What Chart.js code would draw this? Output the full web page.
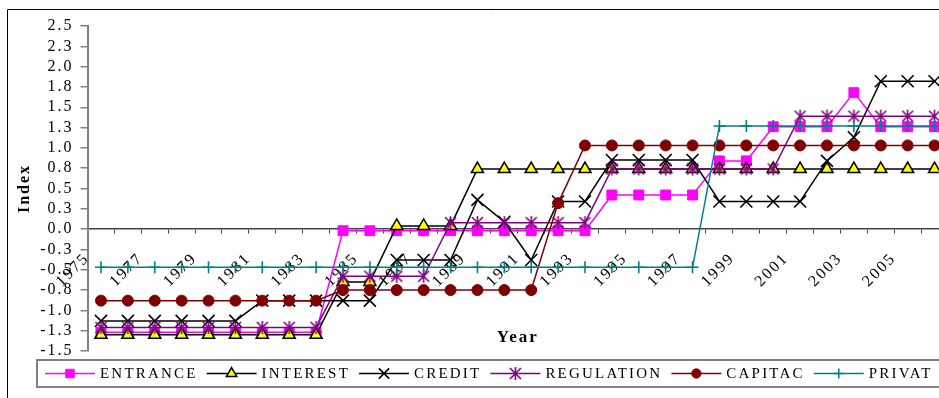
<!DOCTYPE html>
<html>
<head>
<meta charset="utf-8">
<script src="https://cdn.jsdelivr.net/npm/chart.js@4.4.1/dist/chart.umd.min.js"></script>
<style>
  html, body { margin: 0; padding: 0; background: #fff; overflow: hidden; }
  #wrap { position: absolute; left: 0; top: 0; width: 970px; height: 398px; }
</style>
</head>
<body>
<div id="wrap"><canvas id="chart" width="970" height="398"></canvas></div>
<script>
const years = ['1975', '1976', '1977', '1978', '1979', '1980', '1981', '1982', '1983', '1984', '1985',
  '1986', '1987', '1988', '1989', '1990', '1991', '1992', '1993', '1994', '1995', '1996', '1997',
  '1998', '1999', '2000', '2001', '2002', '2003', '2004', '2005', '2006'];

const entrance = [-1.27, -1.27, -1.27, -1.27, -1.27, -1.27, -1.27, -1.27, -1.27,
  -0.02, -0.02, -0.02, -0.02, -0.02, -0.02, -0.02, -0.02, -0.02, -0.02,
  0.42, 0.42, 0.42, 0.42, 0.84, 0.84, 1.26, 1.26, 1.26, 1.68, 1.26, 1.26, 1.26];
const interest = [-1.30, -1.30, -1.30, -1.30, -1.30, -1.30, -1.30, -1.30, -1.30,
  -0.65, -0.65, 0.04, 0.04, 0.04,
  0.74, 0.74, 0.74, 0.74, 0.74, 0.74, 0.74, 0.74, 0.74, 0.74, 0.74, 0.74, 0.74, 0.74, 0.74, 0.74, 0.74, 0.74];
const credit = [-1.13, -1.13, -1.13, -1.13, -1.13, -1.13, -0.88, -0.88, -0.88, -0.88, -0.88,
  -0.38, -0.38, -0.38, 0.36, 0.09, -0.38, 0.34, 0.34, 0.85, 0.85, 0.85, 0.85,
  0.34, 0.34, 0.34, 0.34, 0.84, 1.13, 1.82, 1.82, 1.82];
const regulation = [-1.21, -1.21, -1.21, -1.21, -1.21, -1.21, -1.21, -1.21, -1.21,
  -0.58, -0.58, -0.58, -0.58, 0.08, 0.08, 0.08, 0.08, 0.08, 0.08,
  0.74, 0.74, 0.74, 0.74, 0.74, 0.74, 0.74, 1.39, 1.39, 1.39, 1.39, 1.39, 1.39];
const capitac = [-0.88, -0.88, -0.88, -0.88, -0.88, -0.88, -0.88, -0.88, -0.88,
  -0.75, -0.75, -0.75, -0.75, -0.75, -0.75, -0.75, -0.75, 0.32,
  1.03, 1.03, 1.03, 1.03, 1.03, 1.03, 1.03, 1.03, 1.03, 1.03, 1.03, 1.03, 1.03, 1.03];
const privat = [-0.47, -0.47, -0.47, -0.47, -0.47, -0.47, -0.47, -0.47, -0.47, -0.47, -0.47, -0.47,
  -0.47, -0.47, -0.47, -0.47, -0.47, -0.47, -0.47, -0.47, -0.47, -0.47, -0.47,
  1.27, 1.27, 1.27, 1.27, 1.27, 1.27, 1.27, 1.27, 1.27];

const FONT = "'Liberation Serif', 'Times New Roman', serif";
Chart.defaults.font.family = FONT;
Chart.defaults.color = '#000';

// excel-like star marker: X with a vertical bar
function starMarker(color) {
  const c = document.createElement('canvas');
  c.width = 15; c.height = 15;
  const g = c.getContext('2d');
  g.strokeStyle = color;
  g.lineWidth = 1.6;
  g.beginPath();
  g.moveTo(2, 2); g.lineTo(13, 13);
  g.moveTo(13, 2); g.lineTo(2, 13);
  g.moveTo(7.5, 1); g.lineTo(7.5, 14);
  g.stroke();
  return c;
}

const series = [
  { label: 'ENTRANCE', data: entrance, line: '#ff00ff', fill: '#ff00ff', mark: '#ff00ff', style: 'rect', r: 7, bw: 1 },
  { label: 'INTEREST', data: interest, line: '#000000', fill: '#ffff00', mark: '#000000', style: 'triangle', r: 7, bw: 1.5 },
  { label: 'CREDIT', data: credit, line: '#000000', fill: '#000000', mark: '#000000', style: 'crossRot', r: 8.5, bw: 1.6 },
  { label: 'REGULATION', data: regulation, line: '#800080', fill: '#800080', mark: '#800080', style: starMarker('#800080'), r: 7, bw: 1.5 },
  { label: 'CAPITAC', data: capitac, line: '#800000', fill: '#800000', mark: '#800000', style: 'circle', r: 5.5, bw: 1 },
  { label: 'PRIVAT', data: privat, line: '#008080', fill: '#008080', mark: '#008080', style: 'cross', r: 6, bw: 1.6 },
];

const framePlugin = {
  id: 'frame',
  beforeDraw(chart) {
    const ctx = chart.ctx;
    ctx.save();
    ctx.strokeStyle = '#000';
    ctx.lineWidth = 1;
    ctx.beginPath();
    ctx.moveTo(7.5, chart.height);
    ctx.lineTo(7.5, 9.5);
    ctx.lineTo(chart.width, 9.5);
    ctx.stroke();
    ctx.restore();
    ctx.letterSpacing = '2px';
  },
  beforeDatasetsDraw(chart) {
    chart.ctx.letterSpacing = '0px';
  },
  afterDraw(chart) {
    // excel style legend: line with marker, then spaced caps
    const ctx = chart.ctx;
    const top = chart.chartArea.bottom + 9;
    const h = 27;
    const left = 37;
    const cy = top + h / 2;
    ctx.save();
    ctx.font = '15px ' + FONT;
    ctx.letterSpacing = '2.2px';
    ctx.textBaseline = 'middle';
    ctx.textAlign = 'left';
    let x = left + 8;
    chart.data.datasets.forEach((ds) => {
      ctx.strokeStyle = ds.borderColor;
      ctx.lineWidth = 1.5;
      ctx.beginPath();
      ctx.moveTo(x, cy);
      ctx.lineTo(x + 50, cy);
      ctx.stroke();
      ctx.fillStyle = ds.pointBackgroundColor;
      ctx.strokeStyle = ds.pointBorderColor;
      ctx.lineWidth = ds.pointBorderWidth;
      if (Chart.helpers && Chart.helpers.drawPoint) {
        Chart.helpers.drawPoint(ctx, { pointStyle: ds.pointStyle, radius: ds.pointRadius * 0.85, borderWidth: ds.pointBorderWidth, rotation: 0 }, x + 25, cy);
      }
      ctx.fillStyle = '#000';
      ctx.fillText(ds.label, x + 55, cy + 1);
      x += 55 + ctx.measureText(ds.label).width + 9;
    });
    ctx.strokeStyle = '#808080';
    ctx.lineWidth = 2;
    ctx.strokeRect(left, top, Math.max(x, chart.width - 10) - left, h);
    ctx.restore();
  }
};

new Chart(document.getElementById('chart'), {
  type: 'line',
  data: {
    labels: years,
    datasets: series.map((s, i) => ({
      label: s.label,
      data: s.data,
      borderColor: s.line,
      backgroundColor: s.fill,
      borderWidth: 1.5,
      tension: 0,
      fill: false,
      pointStyle: s.style,
      pointRadius: s.r,
      pointBackgroundColor: s.fill,
      pointBorderColor: s.mark,
      pointBorderWidth: s.bw,
      order: series.length - i,
    })),
  },
  options: {
    responsive: false,
    animation: false,
    devicePixelRatio: 1,
    layout: { padding: { left: 8, right: 22, top: 26, bottom: 47 } },
    plugins: { legend: { display: false }, tooltip: { enabled: false } },
    scales: {
      x: {
        type: 'category',
        offset: true,
        position: { y: 0 },
        grid: { offset: true, drawOnChartArea: false, tickLength: 4, color: '#444' },
        border: { color: '#444', width: 1.5 },
        ticks: {
          autoSkip: false,
          minRotation: 45,
          maxRotation: 45,
          padding: 16,
          labelOffset: -14,
          font: { size: 16 },
          callback: (v, i) => (i % 2 === 0 ? years[i] : ''),
        },
        title: { display: true, text: 'Year', font: { size: 17, weight: 'bold' }, padding: { top: 26, bottom: 0 } },
      },
      y: {
        min: -1.5,
        max: 2.5,
        grid: { drawOnChartArea: false, tickLength: 7, color: '#808080', lineWidth: 1.5 },
        border: { color: '#808080', width: 2 },
        ticks: { stepSize: 0.25, maxTicksLimit: 20, autoSkip: false, padding: 7, font: { size: 16 }, callback: (v) => v.toFixed(1) },
        title: { display: true, text: 'Index', font: { size: 16, weight: 'bold' }, padding: { top: 7, bottom: 7 } },
      },
    },
  },
  plugins: [framePlugin],
});
</script>
</body>
</html>
